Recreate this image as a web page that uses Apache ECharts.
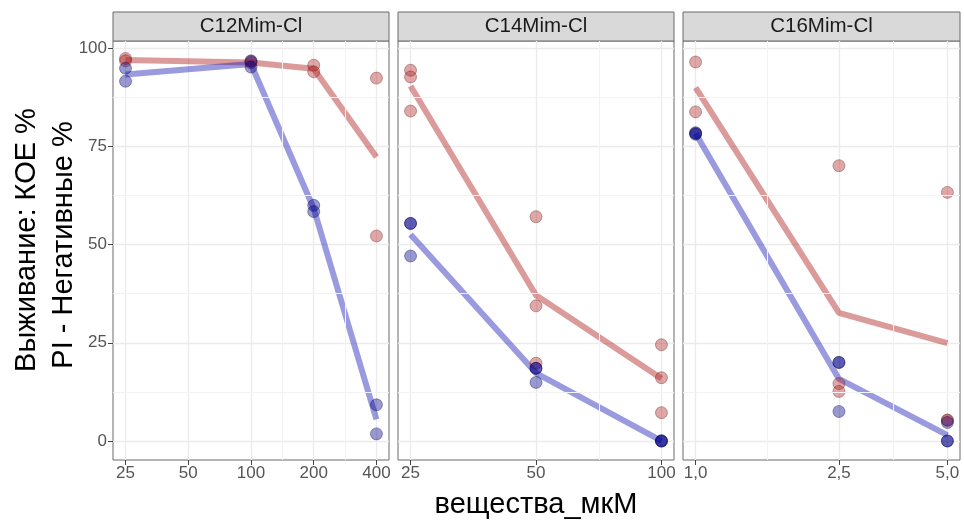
<!DOCTYPE html>
<html><head>
<meta charset="utf-8">
<title>Выживание</title>
<script src="https://cdn.jsdelivr.net/npm/echarts@6/dist/echarts.min.js"></script>
<style>html,body{margin:0;background:#fff}#main{width:964px;height:521px}</style>
</head>
<body>
<div id="main"></div>
<script>
// facets
var panels = ['C12Mim-Cl', 'C14Mim-Cl', 'C16Mim-Cl'];
var xTicks = [[25, 50, 100, 200, 400], [25, 50, 100], [1, 2.5, 5]];
var xMinor = [[141.4, 282.8], [70.7], [1.58, 3.54]];
var yTicks = [0, 25, 50, 75, 100];
var yMinor = [12.5, 37.5, 62.5, 87.5];

// points [conc, %]
var c12Red  = [[25,97.4],[25,96.8],[100,96.6],[100,96.3],[200,95.7],[200,94.0],[400,92.4],[400,52.2]];
var c12Blue = [[25,94.9],[25,91.6],[100,96.8],[100,95.2],[200,60.0],[200,58.4],[400,9.2],[400,1.8]];
var c14Red  = [[25,94.4],[25,92.7],[25,84.0],[50,57.1],[50,34.4],[50,19.8],[100,24.5],[100,16.1],[100,7.2]];
var c14Blue = [[25,55.4],[25,55.4],[25,47.1],[50,18.5],[50,18.5],[50,14.9],[100,0],[100,0],[100,0]];
var c16Red  = [[1,96.5],[1,83.8],[2.5,70.1],[2.5,14.6],[2.5,12.6],[5,63.3],[5,5.3],[5,5.3]];
var c16Blue = [[1,78.5],[1,78.3],[1,78.1],[2.5,20.0],[2.5,20.0],[2.5,7.5],[5,4.7],[5,0],[5,0]];
// mean lines
var c12RedLine  = [[25,97.0],[100,96.4],[200,94.8],[400,72.3]];
var c12BlueLine = [[25,93.3],[100,96.0],[200,59.2],[400,5.5]];
var c14RedLine  = [[25,90.4],[50,37.1],[100,15.9]];
var c14BlueLine = [[25,52.6],[50,17.3],[100,0]];
var c16RedLine  = [[1,90.0],[2.5,32.6],[5,24.9]];
var c16BlueLine = [[1,78.3],[2.5,15.8],[5,1.5]];

var redPts = [c12Red, c14Red, c16Red], bluePts = [c12Blue, c14Blue, c16Blue];
var redLines = [c12RedLine, c14RedLine, c16RedLine], blueLines = [c12BlueLine, c14BlueLine, c16BlueLine];

var FONT = 'Liberation Sans, Arial, sans-serif';
var lefts = [113, 398, 683], widths = [276, 276, 277];
var TOP = 41, BOTTOM = 460;
var yMin = -4.85, yMax = 101.85;

function lg(p) { return [Math.log10(p[0]), p[1]]; }

var grids = [], xAxes = [], yAxes = [], series = [], graphics = [];
for (var i = 0; i < 3; i++) {
	var t = xTicks[i];
	var lo = Math.log10(t[0]), hi = Math.log10(t[t.length - 1]), pad = (hi - lo) * 0.05;
	var tv = t.map(Math.log10);
	grids.push({left: lefts[i], top: TOP, width: widths[i], height: BOTTOM - TOP,
		show: true, borderColor: '#6a6a6a', borderWidth: 1, backgroundColor: '#fff'});
	xAxes.push({type: 'value', gridIndex: i, min: lo - pad, max: hi + pad, position: 'bottom',
		axisLine: {show: false, onZero: false},
		axisTick: {show: true, customValues: tv, length: 5, lineStyle: {color: '#444'}},
		axisLabel: {customValues: tv, color: '#555', fontSize: 17, fontFamily: FONT, margin: 5,
			formatter: (function (dec) {
				return function (v) {
					var n = Math.pow(10, v);
					return dec ? n.toFixed(1).replace('.', ',') : String(Math.round(n));
				};
			})(i === 2)},
		splitLine: {show: true, lineStyle: {color: '#ebebeb', width: 1.3}}});
	yAxes.push({type: 'value', gridIndex: i, min: yMin, max: yMax, position: 'left',
		axisLine: {show: false, onZero: false},
		axisTick: {show: i === 0, customValues: yTicks, length: 5, lineStyle: {color: '#444'}},
		axisLabel: {show: i === 0, customValues: yTicks, color: '#555', fontSize: 17, fontFamily: FONT, margin: 6},
		splitLine: {show: true, lineStyle: {color: '#ebebeb', width: 1.3}}});

	// minor grid lines
	var ml = [];
	yMinor.forEach(function (v) { ml.push({yAxis: v}); });
	xMinor[i].forEach(function (v) { ml.push({xAxis: Math.log10(v)}); });
	series.push({type: 'scatter', xAxisIndex: i, yAxisIndex: i, data: [], z: 1,
		markLine: {silent: true, symbol: ['none', 'none'], label: {show: false}, animation: false,
			lineStyle: {type: 'solid', color: '#f2f2f2', width: 1}, data: ml}});

	series.push({type: 'line', xAxisIndex: i, yAxisIndex: i, data: redLines[i].map(lg), z: 2,
		showSymbol: false, lineStyle: {color: 'rgba(178,34,34,0.45)', width: 6}});
	series.push({type: 'line', xAxisIndex: i, yAxisIndex: i, data: blueLines[i].map(lg), z: 2,
		showSymbol: false, lineStyle: {color: 'rgba(30,30,185,0.45)', width: 6}});
	series.push({type: 'scatter', xAxisIndex: i, yAxisIndex: i, data: redPts[i].map(lg), z: 3,
		symbolSize: 12, itemStyle: {color: 'rgba(178,34,34,0.5)', borderColor: 'rgba(90,20,20,0.45)', borderWidth: 1}});
	series.push({type: 'scatter', xAxisIndex: i, yAxisIndex: i, data: bluePts[i].map(lg), z: 3,
		symbolSize: 12, itemStyle: {color: 'rgba(0,0,139,0.5)', borderColor: 'rgba(0,0,60,0.45)', borderWidth: 1}});

	// strip
	graphics.push({type: 'rect', shape: {x: lefts[i], y: 12, width: widths[i], height: TOP - 12},
		style: {fill: '#d9d9d9', stroke: '#6a6a6a', lineWidth: 1}});
	graphics.push({type: 'text', x: lefts[i] + widths[i] / 2, y: 12 + (TOP - 12) / 2,
		style: {text: panels[i], fill: '#1a1a1a', font: '20.5px ' + FONT, textAlign: 'center', textVerticalAlign: 'middle'}});
}

graphics.push({type: 'text', x: 536, y: 505,
	style: {text: 'вещества_мкМ', fill: '#000', font: '29px ' + FONT, textAlign: 'center', textVerticalAlign: 'middle'}});
graphics.push({type: 'text', x: 27, y: 240, rotation: Math.PI / 2,
	style: {text: 'Выживание: КОЕ %', fill: '#000', font: '29px ' + FONT, textAlign: 'center', textVerticalAlign: 'middle'}});
graphics.push({type: 'text', x: 64, y: 245, rotation: Math.PI / 2,
	style: {text: 'PI - Негативные %', fill: '#000', font: '29px ' + FONT, textAlign: 'center', textVerticalAlign: 'middle'}});

var chart = echarts.init(document.getElementById('main'));
chart.setOption({
	animation: false,
	grid: grids, xAxis: xAxes, yAxis: yAxes, series: series,
	graphic: graphics
});
</script>
</body>
</html>
